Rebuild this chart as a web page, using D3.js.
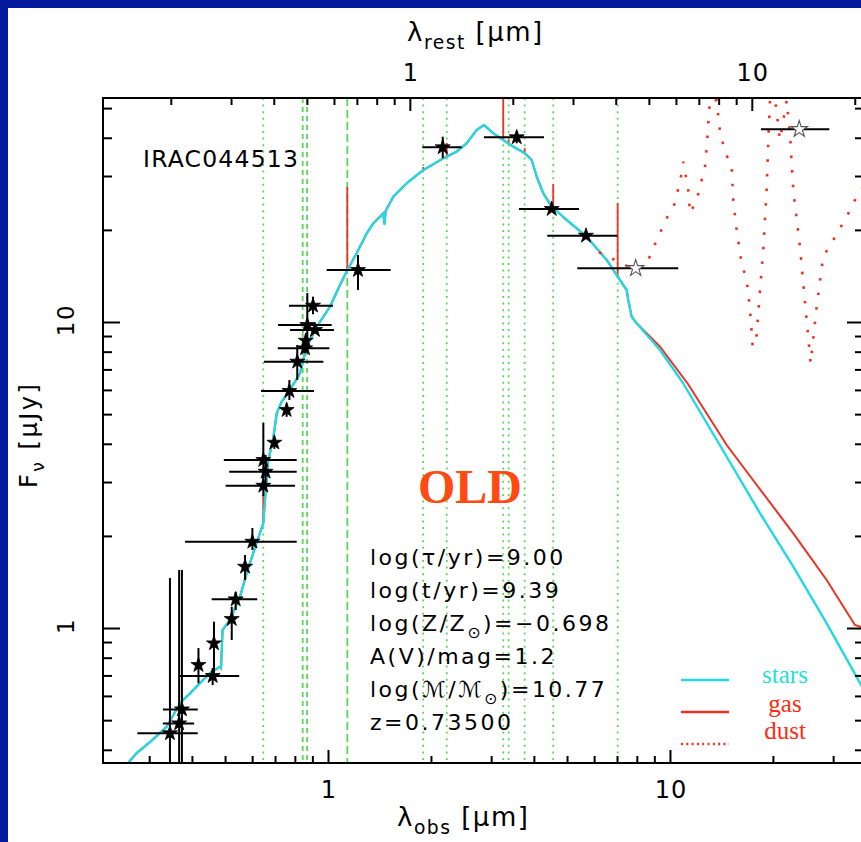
<!DOCTYPE html>
<html>
<head>
<meta charset="utf-8">
<script src="https://cdn.jsdelivr.net/npm/d3@7"></script>
<style>
  html, body { margin: 0; padding: 0; background: #03189a; }
  svg { display: block; }
</style>
</head>
<body>
<svg id="chart" width="861" height="842"></svg>
<script>
// ---------------- data ----------------
const redshift = 0.735;
const sourceName = "IRAC044513";
const ageClass = "OLD";

// axis limits (observed wavelength in micron, flux density in microJansky)
const lamRange = [0.2198, 36.93];
const fluxRange = [0.3622, 53.95];

// tick values
const majorTicks = [1, 10];
const obsMinorTicks = [0.3, 0.4, 0.5, 0.6, 0.7, 0.8, 0.9, 2, 3, 4, 5, 6, 7, 8, 9, 20, 30];
const restMinorTicks = [0.2, 0.3, 0.4, 0.5, 0.6, 0.7, 0.8, 0.9, 2, 3, 4, 5, 6, 7, 8, 9, 20];
const fluxMinorTicks = [0.4, 0.5, 0.6, 0.7, 0.8, 0.9, 2, 3, 4, 5, 6, 7, 8, 9, 20, 30, 40, 50];
const tickLabels = ["1", "10"];

// photometry (observed frame)
const photLam    = [0.345, 0.367, 0.374, 0.418, 0.460, 0.464, 0.523, 0.537, 0.572, 0.601, 0.647, 0.647, 0.657, 0.697, 0.757, 0.771, 0.813, 0.857, 0.861, 0.870, 0.916, 0.904, 1.224, 2.165, 3.563, 4.510, 5.681, 7.94, 23.88];
const photLamLo  = [0.277, 0.329, 0.329, 0.418, 0.369, 0.464, 0.523, 0.457, 0.572, 0.382, 0.496, 0.502, 0.514, 0.697, 0.757, 0.637, 0.650, 0.713, 0.861, 0.714, 0.774, 0.769, 0.991, 1.887, 2.858, 3.618, 4.377, 5.358, 18.45];
const photLamHi  = [0.416, 0.406, 0.416, 0.418, 0.550, 0.464, 0.523, 0.621, 0.572, 0.810, 0.810, 0.801, 0.810, 0.697, 0.757, 0.910, 0.969, 1.009, 0.861, 1.025, 1.041, 1.034, 1.525, 2.460, 4.281, 5.420, 7.015, 10.57, 29.23];
const photFlux   = [0.453, 0.488, 0.542, 0.757, 0.697, 0.891, 1.070, 1.241, 1.586, 1.914, 3.540, 2.917, 3.242, 4.033, 5.158, 5.951, 7.419, 8.204, 8.687, 9.777, 9.416, 11.31, 14.79, 37.23, 40.14, 23.40, 19.14, 14.98, 42.64];
const photFluxLo = [0.10, 0.10, 0.10, 0.660, 0.651, 0.711, 0.914, 1.145, 1.435, 1.799, 3.092, 2.700, 2.825, 3.850, 4.900, 5.561, 6.465, 7.900, 8.687, 8.100, 9.416, 10.60, 12.72, 34.28, 38.37, 22.90, 18.70, 14.98, 42.64];
const photFluxHi = [1.456, 1.547, 1.547, 0.860, 0.740, 1.049, 1.174, 1.311, 1.732, 2.123, 4.677, 3.283, 3.676, 4.200, 5.400, 6.465, 8.410, 8.500, 8.687, 12.44, 9.416, 12.10, 16.55, 40.32, 41.88, 23.90, 19.60, 14.98, 42.64];
const photUsed   = [1, 1, 1, 1, 1, 1, 1, 1, 1, 1, 1, 1, 1, 1, 1, 1, 1, 1, 1, 1, 1, 1, 1, 1, 1, 1, 1, 0, 0];

// best-fit stellar spectrum
const modelLam  = [0.255, 0.2602, 0.2759, 0.3017, 0.3376, 0.3693, 0.3949, 0.4223, 0.4518, 0.4832, 0.4866, 0.4916, 0.517, 0.5529, 0.5783, 0.6045, 0.6324, 0.6468, 0.6543, 0.669, 0.6906, 0.7079, 0.7321, 0.7743, 0.8282, 0.8566, 0.8858, 0.9267, 1.0135, 1.084, 1.139, 1.213, 1.298, 1.357, 1.451, 1.462, 1.475, 1.552, 1.699, 1.899, 2.174, 2.378, 2.544, 2.722, 2.858, 3.043, 3.254, 3.482, 3.767, 3.941, 4.077, 4.262, 4.51, 4.989, 5.707, 6.53, 7.142, 7.47, 7.551, 7.727, 7.991, 9.35, 10.92, 14.65, 18.34, 22.94, 28.72, 36.93];
const starsFlux = [0.345, 0.362, 0.3904, 0.4241, 0.4759, 0.5689, 0.6117, 0.661, 0.7125, 0.7475, 0.7401, 0.985, 1.062, 1.266, 1.509, 1.758, 2.044, 2.203, 2.62, 3.54, 4.115, 5.03, 5.49, 5.995, 6.799, 7.903, 8.733, 9.652, 11.22, 13.21, 14.79, 16.77, 19.5, 21.02, 22.66, 20.9, 23.1, 25.67, 28.4, 31.38, 34.28, 36.03, 38.37, 42.42, 44.05, 41.37, 39.33, 37.41, 35.59, 33.84, 29.84, 26.34, 23.82, 21.54, 19.0, 15.95, 13.72, 12.72, 11.8, 10.41, 9.903, 8.101, 6.319, 3.628, 2.371, 1.586, 1.036, 0.6271];

// nebular continuum adds to the stars beyond ~9 micron
const gasLam  = [9.35, 11.29, 14.65, 17.14, 22.94, 28.72, 34.74, 36.93];
const gasFlux = [8.306, 6.271, 3.963, 3.139, 2.039, 1.435, 1.023, 1.0];

// nebular emission lines (rest wavelength, micron) and peak flux of the model line
const lineNames = ["[OII]", "Hβ", "[OIII]", "Hα", "Paγ", "Paβ", "Paα", "Brδ", "Brγ", "Brβ", "Brα"];
const lineRest  = [0.3727, 0.4861, 0.5007, 0.6563, 1.0941, 1.2822, 1.8756, 1.9451, 2.1661, 2.6259, 4.0523];
const linePeak  = [2.72, 7.6, 8.6, 27.6, 32.1, 38.5, 70.0, 39.5, 37.0, 28.2, 24.5];

// dust emission
const dustLam  = [6.2, 6.455, 7.903, 8.643, 9.145, 9.886, 10.34, 10.82, 10.94, 11.31, 11.44, 11.97, 12.66, 12.81, 13.09, 13.69, 14.0, 14.48, 15.15, 15.31, 15.67, 16.2, 16.76, 17.14, 17.45, 17.93, 18.34, 18.74, 19.17, 19.39, 19.61, 20.28, 20.97, 21.94, 22.43, 22.94, 23.99, 25.1, 25.78, 26.85, 28.07, 30.03, 32.87, 35.15, 36.93];
const dustFlux = [16.9, 16.56, 14.79, 15.95, 18.53, 22.37, 24.43, 30.61, 33.41, 27.01, 22.66, 25.04, 32.18, 37.41, 53.5, 53.0, 41.88, 36.03, 32.18, 25.04, 19.98, 15.56, 13.72, 10.95, 8.306, 9.07, 12.72, 17.19, 27.01, 39.33, 53.0, 53.8, 39.33, 53.0, 41.37, 27.01, 17.62, 10.15, 7.328, 11.22, 16.35, 18.53, 22.09, 25.67, 28.04];

// fit parameters
const fitLines = [
  "log(τ/yr)=9.00",
  "log(t/yr)=9.39",
  "log(Z/Z_{⊙})=−0.698",
  "A(V)/mag=1.2",
  "log(ℳ/ℳ_{⊙})=10.77",
  "z=0.73500"
];
const legendNames = ["stars", "gas", "dust"];

// ---------------- drawing ----------------
const svg = d3.select("#chart");
const W = 861, H = 842;
const plot = { left: 103, right: 864, top: 98, bottom: 763 };
const CYAN = "#22d8e2", RED = "#ec3220", GREEN = "#5cd65a";
const SANS = "DejaVu Sans, Verdana, sans-serif";

const x = d3.scaleLog().domain(lamRange).range([plot.left, plot.right]);
const xRest = d3.scaleLog().domain(lamRange.map(d => d / (1 + redshift))).range([plot.left, plot.right]);
const y = d3.scaleLog().domain(fluxRange).range([plot.bottom, plot.top]);

// text with _{...} subscripts
function rich(sel, str, fs) {
  const parts = str.split(/(_\{[^}]*\})/).filter(s => s.length);
  let lowered = false;
  parts.forEach(p => {
    if (p.startsWith("_{")) {
      sel.append("tspan").attr("dy", 0.3 * fs).attr("font-size", 0.72 * fs).text(p.slice(2, -1));
      lowered = true;
    } else {
      const t = sel.append("tspan").text(p);
      if (lowered) { t.attr("dy", -0.3 * fs); lowered = false; }
    }
  });
  return sel;
}

// page background and white panel
svg.append("rect").attr("width", W).attr("height", H).attr("fill", "#03189a");
svg.append("rect").attr("x", 8).attr("y", 8).attr("width", W - 8).attr("height", H - 8).attr("fill", "#ffffff");

svg.append("clipPath").attr("id", "plotClip")
  .append("rect").attr("x", plot.left).attr("y", plot.top)
  .attr("width", plot.right - plot.left).attr("height", plot.bottom - plot.top);

const g = svg.append("g").attr("clip-path", "url(#plotClip)");

// emission line markers
const lineDash = name => name === "Hα" ? "8,4" : (name === "Hβ" || name === "[OIII]") ? "5,4" : "2,4.6";
g.selectAll("line.em").data(lineRest).join("line")
  .attr("class", "em")
  .attr("x1", d => x(d * (1 + redshift))).attr("x2", d => x(d * (1 + redshift)))
  .attr("y1", plot.top).attr("y2", plot.bottom)
  .attr("stroke", GREEN).attr("stroke-width", 1.8)
  .attr("stroke-dasharray", (d, i) => lineDash(lineNames[i]));

// interpolation of the stellar model in log-log space
function starsAt(lam) {
  const i = d3.bisectRight(modelLam, lam);
  const i0 = Math.max(0, Math.min(modelLam.length - 2, i - 1));
  const a = Math.log(modelLam[i0]), b = Math.log(modelLam[i0 + 1]);
  const t = (Math.log(lam) - a) / (b - a);
  return Math.exp(Math.log(starsFlux[i0]) * (1 - t) + Math.log(starsFlux[i0 + 1]) * t);
}

const line = d3.line().x(d => x(d[0])).y(d => y(d[1]));

// stars + gas model
const gasModel = modelLam.map((l, i) => [l, starsFlux[i]]).filter(d => d[0] < gasLam[0])
  .concat(gasLam.map((l, i) => [l, gasFlux[i]]));
g.append("path").attr("d", line(gasModel))
  .attr("fill", "none").attr("stroke", RED).attr("stroke-width", 2);
g.selectAll("line.spike").data(lineRest).join("line")
  .attr("class", "spike")
  .attr("x1", d => x(d * (1 + redshift))).attr("x2", d => x(d * (1 + redshift)))
  .attr("y1", d => y(starsAt(d * (1 + redshift))))
  .attr("y2", (d, i) => y(linePeak[i]))
  .attr("stroke", RED).attr("stroke-width", 1.8);

// stellar model
g.append("path").attr("d", line(modelLam.map((l, i) => [l, starsFlux[i]])))
  .attr("fill", "none").attr("stroke", CYAN).attr("stroke-width", 2.4)
  .attr("stroke-linejoin", "round");

// dust model
g.append("path").attr("d", line(dustLam.map((l, i) => [l, dustFlux[i]])))
  .attr("fill", "none").attr("stroke", RED).attr("stroke-width", 2.6)
  .attr("stroke-dasharray", "2.6,12");

// photometry: error bars and stars
const phot = photLam.map((l, i) => ({
  l, lo: photLamLo[i], hi: photLamHi[i],
  f: photFlux[i], flo: photFluxLo[i], fhi: photFluxHi[i], used: photUsed[i]
}));
const bars = g.append("g").attr("stroke", "#000").attr("stroke-width", 2);
bars.selectAll("line.h").data(phot.filter(d => d.hi > d.lo)).join("line")
  .attr("x1", d => x(d.lo)).attr("x2", d => x(d.hi))
  .attr("y1", d => y(d.f)).attr("y2", d => y(d.f));
bars.selectAll("line.v").data(phot.filter(d => d.fhi > d.flo)).join("line")
  .attr("x1", d => x(d.l)).attr("x2", d => x(d.l))
  .attr("y1", d => y(d.flo)).attr("y2", d => y(d.fhi));

const starSym = d3.symbol(d3.symbolStar, 70);
const starOpen = d3.symbol(d3.symbolStar, 85);
g.selectAll("path.pt").data(phot).join("path")
  .attr("class", "pt")
  .attr("transform", d => `translate(${x(d.l)},${y(d.f)})`)
  .attr("d", d => d.used ? starSym() : starOpen())
  .attr("fill", d => d.used ? "#000" : "#fff")
  .attr("stroke", d => d.used ? "#000" : "#555")
  .attr("stroke-width", d => d.used ? 0.8 : 1.1);

// axes: frame and inward ticks
function ticks(axisGen, scale, values, size, tx, ty) {
  const a = svg.append("g").attr("transform", `translate(${tx},${ty})`)
    .call(axisGen(scale).tickValues(values).tickSize(-size).tickSizeOuter(0).tickFormat(""));
  a.select(".domain").remove();
  a.selectAll("line").attr("stroke", "#000").attr("stroke-width", 2);
}
ticks(d3.axisBottom, x, majorTicks, 13, 0, plot.bottom);
ticks(d3.axisBottom, x, obsMinorTicks, 7, 0, plot.bottom);
ticks(d3.axisTop, xRest, majorTicks, 13, 0, plot.top);
ticks(d3.axisTop, xRest, restMinorTicks, 7, 0, plot.top);
ticks(d3.axisLeft, y, majorTicks, 17, plot.left, 0);
ticks(d3.axisLeft, y, fluxMinorTicks, 9, plot.left, 0);
ticks(d3.axisRight, y, majorTicks, 17, plot.right, 0);
ticks(d3.axisRight, y, fluxMinorTicks, 9, plot.right, 0);

svg.append("rect")
  .attr("x", plot.left).attr("y", plot.top)
  .attr("width", plot.right - plot.left).attr("height", plot.bottom - plot.top)
  .attr("fill", "none").attr("stroke", "#000").attr("stroke-width", 2);

// tick labels
const lab = svg.append("g").attr("font-family", SANS).attr("fill", "#000");
majorTicks.forEach((v, i) => {
  lab.append("text").attr("x", x(v) + 1).attr("y", 798).attr("font-size", 24)
    .attr("letter-spacing", 1).attr("text-anchor", "middle").text(tickLabels[i]);
  lab.append("text").attr("x", xRest(v) + 1).attr("y", 81).attr("font-size", 24)
    .attr("letter-spacing", 1).attr("text-anchor", "middle").text(tickLabels[i]);
  lab.append("text").attr("transform", `translate(74,${y(v) - 2}) rotate(-90)`)
    .attr("font-size", 23).attr("letter-spacing", 1.5).attr("text-anchor", "middle").text(tickLabels[i]);
});

// axis titles
rich(lab.append("text").attr("x", 407).attr("y", 41).attr("font-size", 26)
  .attr("letter-spacing", 1.5), "λ_{rest} [μm]", 26);
rich(lab.append("text").attr("x", 397).attr("y", 826).attr("font-size", 26)
  .attr("letter-spacing", 1.5), "λ_{obs} [μm]", 26);
rich(lab.append("text").attr("transform", "translate(37,488) rotate(-90)")
  .attr("font-size", 24).attr("letter-spacing", 2.5), "F_{ν} [μJy]", 24);

// source name
lab.append("text").attr("x", 143).attr("y", 167).attr("font-size", 23.5)
  .attr("letter-spacing", 1.2).text(sourceName);

// fit parameters
fitLines.forEach((s, i) => {
  rich(lab.append("text").attr("x", 370).attr("y", 565 + i * 33)
    .attr("font-size", 22).attr("letter-spacing", 2.5), s, 22);
});

// population class
svg.append("text").attr("x", 470).attr("y", 503)
  .attr("font-family", "Liberation Serif, Times New Roman, serif")
  .attr("font-weight", "bold").attr("font-size", 48)
  .attr("text-anchor", "middle").attr("fill", "#ff4a12").text(ageClass);

// legend
const leg = svg.append("g").attr("font-family", "Liberation Serif, Times New Roman, serif")
  .attr("font-size", 25).attr("text-anchor", "middle");
const legColors = [CYAN, RED, RED];
const legLineY = [680, 712, 744];
const legTextY = [683, 712, 739];
legendNames.forEach((name, i) => {
  leg.append("line").attr("x1", 681).attr("x2", 729)
    .attr("y1", legLineY[i]).attr("y2", legLineY[i])
    .attr("stroke", legColors[i]).attr("stroke-width", 2.6)
    .attr("stroke-dasharray", i === 2 ? "2,3.3" : null);
  leg.append("text").attr("x", 785).attr("y", legTextY[i])
    .attr("fill", i === 0 ? "#1fe0d8" : "#ff2a10").text(name);
});
</script>
</body>
</html>
